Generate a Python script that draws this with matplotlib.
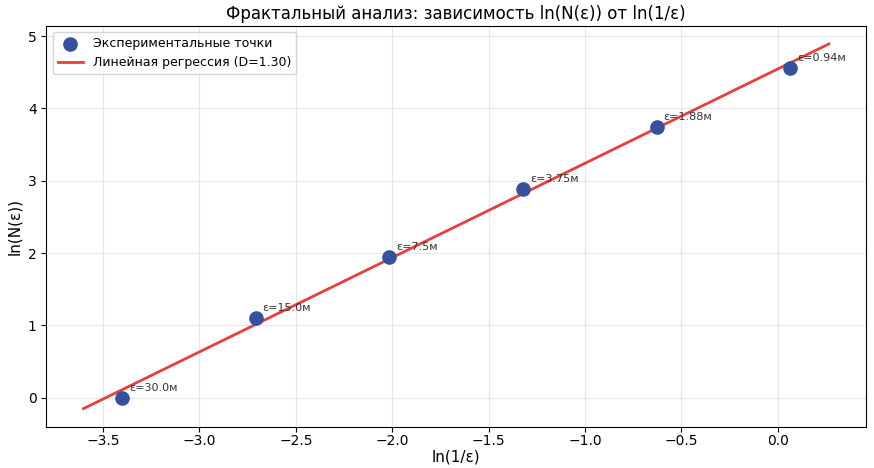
import numpy as np
import matplotlib
matplotlib.use("Agg")
import matplotlib.pyplot as plt

# box sizes (m) and box counts
eps_labels = ["30.0", "15.0", "7.5", "3.75", "1.88", "0.94"]
eps_values = [30.0, 15.0, 7.5, 3.75, 1.875, 0.9375]
box_counts = [1, 3, 7, 18, 42, 95]

x = np.log(1.0 / np.array(eps_values))
y = np.log(np.array(box_counts))

# linear fit -> fractal dimension
D, b = np.polyfit(x, y, 1)
x_fit = np.linspace(x.min() - 0.2, x.max() + 0.2, 100)
y_fit = D * x_fit + b

fig = plt.figure(figsize=(8.74, 4.68), dpi=100)
ax = fig.add_axes([0.053, 0.088, 0.938, 0.857])

ax.scatter(x, y, s=90, color="#34509e", zorder=3, label="Экспериментальные точки")
ax.plot(x_fit, y_fit, color="#e5403d", linewidth=2, label=f"Линейная регрессия (D={D:.2f})")

for xi, yi, lab in zip(x, y, eps_labels):
    ax.annotate(f"ε={lab}м", (xi, yi), xytext=(5, 5), textcoords="offset points",
                fontsize=8, color="#333333")

ax.set_title("Фрактальный анализ: зависимость ln(N(ε)) от ln(1/ε)", fontsize=12, pad=5)
ax.set_xlabel("ln(1/ε)", fontsize=11, labelpad=1)
ax.set_ylabel("ln(N(ε))", fontsize=11)
ax.tick_params(axis="x", pad=2)
ax.grid(True, alpha=0.3)
ax.legend(loc="upper left", fontsize=9)

fig.savefig("out.png", dpi=100)
